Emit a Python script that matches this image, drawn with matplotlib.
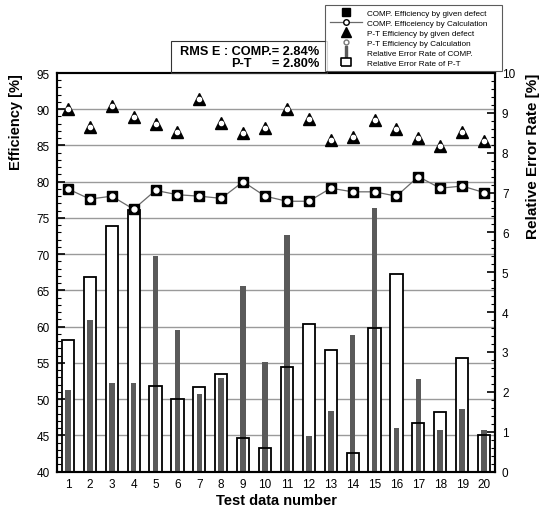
import matplotlib
matplotlib.use("Agg")
import matplotlib.pyplot as plt
from matplotlib.lines import Line2D
from matplotlib.patches import Rectangle
from matplotlib.ticker import MultipleLocator
from matplotlib.transforms import blended_transform_factory

plt.rcParams['font.family'] = ['Liberation Sans', 'DejaVu Sans']

# test cases
tests = list(range(1, 21))

# efficiency [%] (left axis)
comp_eff = [79.0, 77.6, 78.0, 76.2, 78.8, 78.2, 78.0, 77.7, 80.0, 78.0,
            77.3, 77.3, 79.1, 78.6, 78.6, 78.0, 80.7, 79.1, 79.4, 78.5]
pt_eff = [90.0, 87.5, 90.4, 88.9, 88.0, 86.9, 91.4, 88.1, 86.7, 87.4,
          90.0, 88.7, 85.8, 86.2, 88.5, 87.3, 86.0, 84.9, 86.9, 85.6]

# relative error rate [%] (right axis)
comp_err = [2.05, 3.80, 2.23, 2.21, 5.41, 3.55, 1.94, 2.34, 4.66, 2.76,
            5.94, 0.89, 1.52, 3.42, 6.61, 1.09, 2.33, 1.03, 1.56, 1.05]
pt_err = [3.31, 4.87, 6.15, 6.55, 2.14, 1.81, 2.12, 2.45, 0.83, 0.59,
          2.62, 3.69, 3.05, 0.47, 3.59, 4.95, 1.22, 1.50, 2.85, 0.91]

rms_comp = 2.84
rms_pt = 2.80

W, H = 543, 510
fig = plt.figure(figsize=(W / 100, H / 100), dpi=100)
ax = fig.add_axes([57 / W, 1 - 472.5 / H, (495 - 57) / W, (472.5 - 74) / H])
ax2 = ax.twinx()

# left axis sits on top so the markers cover the bars
ax.set_zorder(ax2.get_zorder() + 1)
ax.patch.set_visible(False)

ax.set_xlim(0.5, 20.5)
ax.set_ylim(40, 95)
ax2.set_ylim(0, 10)

# horizontal grid at the left major ticks, drawn under the bars
grid_tr = blended_transform_factory(ax2.transAxes, ax.transData)
for v in range(45, 95, 5):
    ax2.plot([0, 1], [v, v], transform=grid_tr, color='#9a9a9a', lw=1.0, zorder=0)

# error-rate bars
ax2.bar(tests, pt_err, width=0.56, color='white', edgecolor='none', zorder=1)
ax2.bar(tests, comp_err, width=0.26, color='#5a5a5a', edgecolor='none', zorder=2)
ax2.bar(tests, pt_err, width=0.56, fill=False, edgecolor='black', lw=1.3, zorder=3)

# efficiency markers
ax.plot(tests, comp_eff, color='#6a6a6a', lw=0.9, zorder=2)
ax.plot(tests, comp_eff, 's', color='black', ms=7.5, zorder=3)
ax.plot(tests, comp_eff, 'o', mfc='white', mec='white', ms=3.5, zorder=4)
ax.plot(tests, pt_eff, '^', color='black', ms=8, zorder=3)
ax.plot(tests, pt_eff, 'o', mfc='white', mec='white', ms=3, zorder=4)

# axes styling
ax.set_xticks(tests)
ax.tick_params(axis='x', length=0, labelsize=8.5, pad=5)
ax.yaxis.set_major_locator(MultipleLocator(5))
ax.yaxis.set_minor_locator(MultipleLocator(1))
ax.tick_params(axis='y', which='major', direction='in', length=6, width=1.2, labelsize=8.5, pad=5)
ax.tick_params(axis='y', which='minor', direction='in', length=3, width=0.8)
ax2.yaxis.set_major_locator(MultipleLocator(1))
ax2.yaxis.set_minor_locator(MultipleLocator(0.2))
ax2.tick_params(axis='y', which='major', direction='in', length=6, width=1.2, labelsize=8.5, pad=5)
ax2.tick_params(axis='y', which='minor', direction='in', length=3, width=0.8)
for a in (ax, ax2):
    for s in a.spines.values():
        s.set_linewidth(1.5)

ax.set_xlabel('Test data number', fontsize=10.5, fontweight='bold', labelpad=2)
ax.set_ylabel('Efficiency [%]', fontsize=10.5, fontweight='bold', loc='top')
ax.yaxis.set_label_coords(-34 / 438, 1.0)
ax2.set_ylabel('Relative Error Rate [%]', fontsize=11, fontweight='bold', loc='top')
ax2.yaxis.set_label_coords(1 + 31 / 438, 1.0)

# RMS error box above the plot
fig.patches.append(Rectangle((171 / W, 1 - 74 / H), (327 - 171) / W, 32 / H,
                             transform=fig.transFigure, fill=False,
                             edgecolor='#333333', lw=0.8))
fig.text(319 / W, 1 - 52 / H, f'RMS E : COMP.= {rms_comp:.2f}%', ha='right', va='center',
         fontsize=9.2, fontweight='bold')
fig.text(231 / W, 1 - 64 / H, 'P-T', ha='left', va='center', fontsize=9.2, fontweight='bold')
fig.text(319 / W, 1 - 64 / H, f'= {rms_pt:.2f}%', ha='right', va='center',
         fontsize=9.2, fontweight='bold')

# legend
narrow = [(-0.25, -1), (0.25, -1), (0.25, 1), (-0.25, 1), (-0.25, -1)]
wide = [(-1, -0.8), (1, -0.8), (1, 0.8), (-1, 0.8), (-1, -0.8)]
handles = [
    Line2D([], [], ls='none', marker='s', color='black', ms=6),
    Line2D([], [], color='#6a6a6a', lw=0.9, marker='o', mfc='white', mec='black', ms=4),
    Line2D([], [], ls='none', marker='^', color='black', ms=6.5),
    Line2D([], [], ls='none', marker='o', mfc='white', mec='#777777', ms=3.5),
    Line2D([], [], ls='none', marker=narrow, color='#5a5a5a', ms=8),
    Line2D([], [], ls='none', marker=wide, mfc='white', mec='black', mew=1.2, ms=7),
]
labels = ['COMP. Efficiency by given defect',
          'COMP. Efficeiency by Calculation',
          'P-T Efficiency by given defect',
          'P-T Efficiency by Calculation',
          'Relative Error Rate of COMP.',
          'Relative Error Rate of P-T']
leg = fig.legend(handles, labels, loc='upper left',
                 bbox_to_anchor=(325 / W, 1 - 72 / H, (502 - 325) / W, 66 / H),
                 mode='expand', fontsize=5.9, frameon=True, fancybox=False,
                 handlelength=4.0, handletextpad=0.6, labelspacing=0.27,
                 borderpad=0.55, borderaxespad=0)
leg.get_frame().set_edgecolor('#333333')
leg.get_frame().set_linewidth(0.8)

fig.savefig('out.png', dpi=100)
